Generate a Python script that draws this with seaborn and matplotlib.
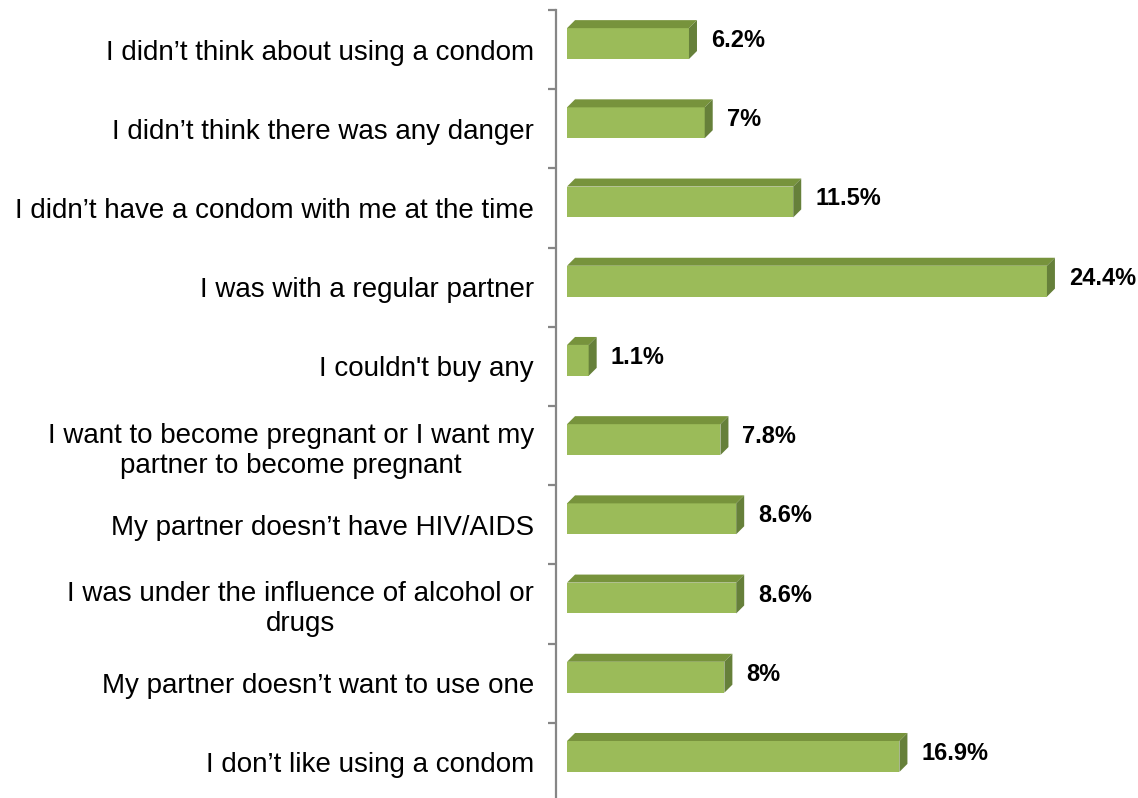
import matplotlib
matplotlib.use("Agg")
import matplotlib.pyplot as plt
from matplotlib.patches import Polygon
import seaborn as sns
import pandas as pd

reasons = [
    "I didn\u2019t think about using a condom",
    "I didn\u2019t think there was any danger",
    "I didn\u2019t have a condom with me at the time",
    "I was with a regular partner",
    "I couldn't buy any",
    "I want to become pregnant or I want my\npartner to become pregnant",
    "My partner doesn\u2019t have HIV/AIDS",
    "I was under the influence of alcohol or\ndrugs",
    "My partner doesn\u2019t want to use one",
    "I don\u2019t like using a condom",
]
percent = [6.2, 7.0, 11.5, 24.4, 1.1, 7.8, 8.6, 8.6, 8.0, 16.9]
value_labels = ["6.2%", "7%", "11.5%", "24.4%", "1.1%", "7.8%", "8.6%", "8.6%", "8%", "16.9%"]

df = pd.DataFrame({"reason": reasons, "percent": percent})

sns.set_theme(style="white")
plt.rcParams["font.family"] = ["Liberation Sans", "DejaVu Sans"]

FRONT = "#9BBB59"
TOP = "#77933C"
SIDE = "#66803A"

fig = plt.figure(figsize=(11.38, 7.98), dpi=100)
ax = fig.add_axes([0.4886, 0.0, 0.5114, 0.9875])

sns.barplot(data=df, x="percent", y="reason", orient="h", color=FRONT,
            width=0.39, saturation=1, ax=ax, edgecolor="none")

ax.set_xlim(-0.56, 29.03)
ax.set_ylim(9.449, -0.5)

# pixel-based depth of the 3-D extrusion, converted to data units
px_x = 19.67   # pixels per percent
px_y = 79.2    # pixels per category
dx = 8 / px_x
dy = 8 / px_y
shift = 6 / px_y

for p, lab in zip(ax.patches, value_labels):
    p.set_y(p.get_y() - shift)
    x0, y0 = p.get_x(), p.get_y()
    w, h = p.get_width(), p.get_height()
    top = Polygon([(x0, y0), (x0 + w, y0), (x0 + w + dx, y0 - dy), (x0 + dx, y0 - dy)],
                  closed=True, facecolor=TOP, edgecolor="none")
    side = Polygon([(x0 + w, y0), (x0 + w + dx, y0 - dy),
                    (x0 + w + dx, y0 + h - dy), (x0 + w, y0 + h)],
                   closed=True, facecolor=SIDE, edgecolor="none")
    ax.add_patch(top)
    ax.add_patch(side)
    ax.text(x0 + w + dx + 14 / px_x, y0 + h / 2 - 3 / px_y, lab,
            ha="left", va="center", fontsize=17, fontweight="bold", color="black")

# axis styling
for s in ["top", "right", "bottom"]:
    ax.spines[s].set_visible(False)
ax.spines["left"].set_color("#868686")
ax.spines["left"].set_linewidth(1.6)
ax.set_xticks([])
ax.set_xlabel("")
ax.set_ylabel("")
ax.set_yticks(range(len(reasons)))
ax.set_yticklabels(reasons, fontsize=20, color="black", multialignment="center",
                   linespacing=1.2)
ax.set_yticks([k - 0.5 for k in range(len(reasons))], minor=True)
ax.tick_params(axis="y", which="major", length=0, pad=16)
ax.tick_params(axis="y", which="minor", length=6, width=1.6, color="#868686",
               direction="out", left=True)

fig.savefig("out.png", dpi=100)
